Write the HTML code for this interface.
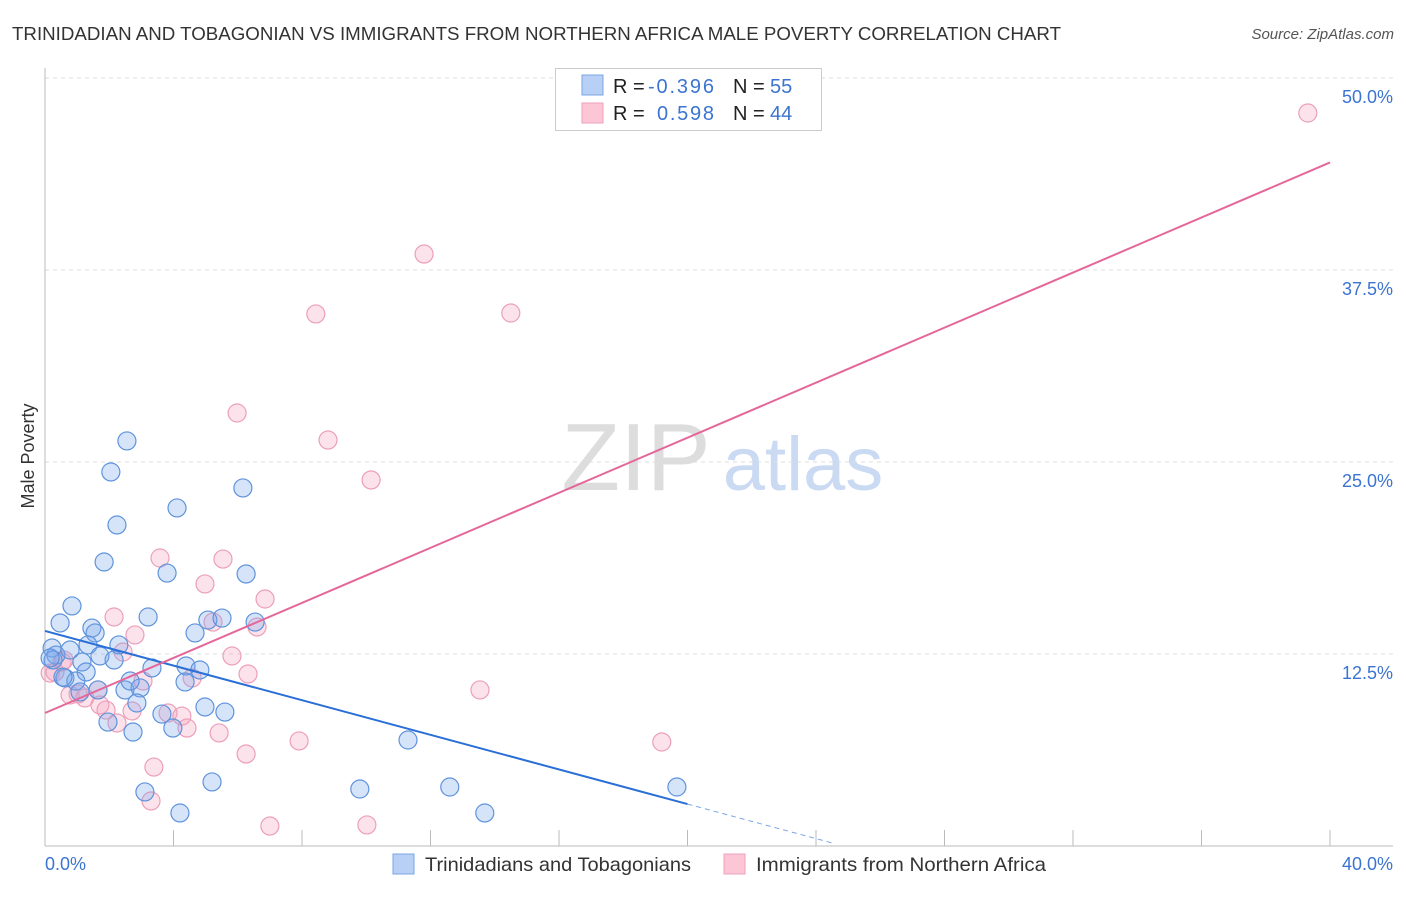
<!DOCTYPE html>
<html><head><meta charset="utf-8">
<style>
body{margin:0;background:#fff;font-family:"Liberation Sans",sans-serif;}
svg text{font-family:"Liberation Sans",sans-serif;}
</style></head>
<body>
<svg id="chart" width="1406" height="892" viewBox="0 0 1406 892">
<text x="12" y="40" font-size="18.5" fill="#333" textLength="1049" lengthAdjust="spacingAndGlyphs">TRINIDADIAN AND TOBAGONIAN VS IMMIGRANTS FROM NORTHERN AFRICA MALE POVERTY CORRELATION CHART</text>
<text x="1394" y="39" font-size="15" fill="#555" font-style="italic" text-anchor="end">Source: ZipAtlas.com</text>
<g>
<text x="636" y="490" font-size="96" fill="#ddd" font-family="Liberation Serif, serif" text-anchor="middle">ZIP</text>
<text x="803" y="490" font-size="76" fill="#c9daf2" text-anchor="middle">atlas</text>
</g>
<g id="grid"></g>
<g id="axes"></g>
<g id="marks"></g>
<g>
<rect x="555.5" y="68.5" width="266" height="62" fill="#fff" stroke="#ccc"/>
<rect x="582" y="75" width="21" height="20" fill="#b8d0f5" stroke="#7aa6e4"/>
<rect x="582" y="103" width="21" height="20" fill="#fcc6d6" stroke="#eea0b9"/>
<text x="613" y="93" font-size="20" fill="#222">R = <tspan x="648" fill="#3b74d1" textLength="66">-0.396</tspan><tspan x="733">N = </tspan><tspan x="770" fill="#3b74d1">55</tspan></text>
<text x="613" y="120" font-size="20" fill="#222">R = <tspan x="657" fill="#3b74d1" textLength="57">0.598</tspan><tspan x="733">N = </tspan><tspan x="770" fill="#3b74d1">44</tspan></text>
</g>
<g>
<rect x="393" y="854" width="21" height="20" fill="#b8d0f5" stroke="#7aa6e4"/>
<text x="425" y="871" font-size="19.5" fill="#333" textLength="266" lengthAdjust="spacingAndGlyphs">Trinidadians and Tobagonians</text>
<rect x="724" y="854" width="21" height="20" fill="#fcc6d6" stroke="#eea0b9"/>
<text x="756" y="871" font-size="19.5" fill="#333" textLength="290" lengthAdjust="spacingAndGlyphs">Immigrants from Northern Africa</text>
</g>
<text x="34" y="456" font-size="18" fill="#333" transform="rotate(-90 34 456)" text-anchor="middle">Male Poverty</text>
</svg>
<script>
const yTicks=[12.5,25,37.5,50];
const yTickLabels=["12.5%","25.0%","37.5%","50.0%"];
const xTicks=[0,4,8,12,16,20,24,28,32,36,40];
const blueX=[0.22,0.34,0.25,0.47,0.84,1.84,2.05,2.24,2.55,3.80,4.11,6.16,6.26,1.46,1.56,1.34,0.78,1.15,1.71,2.15,2.30,1.28,0.62,0.96,1.09,1.65,2.49,2.96,2.65,3.33,3.21,4.67,5.07,5.51,4.39,4.82,4.36,6.54,1.96,2.74,2.86,3.64,3.98,4.98,5.60,3.11,4.20,5.20,9.80,11.30,12.60,13.69,19.67,0.56,0.16];
const blueY=[12.89,12.43,12.11,14.52,15.63,18.49,24.35,20.90,26.37,17.77,22.01,23.31,17.71,14.19,13.87,13.09,12.76,11.98,12.37,12.11,13.09,11.33,10.94,10.74,10.03,10.16,10.16,10.29,10.74,11.59,14.91,13.87,14.71,14.84,11.72,11.46,10.68,14.58,8.07,7.42,9.31,8.59,7.68,9.05,8.72,3.52,2.15,4.17,3.71,6.90,3.84,2.15,3.84,11.00,12.24];
const pinkX=[39.31,11.80,8.43,14.50,5.98,8.81,10.15,3.58,5.54,4.98,6.85,2.15,5.23,6.60,2.80,5.82,2.43,0.53,0.31,0.16,0.59,6.32,4.58,3.05,1.65,0.78,1.24,1.71,1.90,2.71,3.83,4.26,4.42,5.42,2.24,13.54,7.91,19.20,3.39,6.26,3.30,7.00,10.02,1.03];
const pinkY=[47.72,38.54,34.64,34.70,28.19,26.43,23.83,18.75,18.68,17.06,16.08,14.91,14.58,14.26,13.74,12.37,12.63,11.98,11.33,11.26,12.11,11.20,10.94,10.74,10.16,9.83,9.64,9.18,8.85,8.79,8.66,8.46,7.68,7.36,8.01,10.16,6.84,6.77,5.14,5.99,2.93,1.30,1.37,9.90];
const blueTrend=[[0,14.0],[20,2.73]];
const blueTrendExt=[[20,2.73],[24.5,0.2]];
const pinkTrend=[[0,8.66],[40,44.5]];

const NS="http://www.w3.org/2000/svg";
const sx=v=>45+v*32.125;
const sy=v=>846-v*15.36;
function mk(tag,attrs,parent){const e=document.createElementNS(NS,tag);for(const k in attrs)e.setAttribute(k,attrs[k]);parent.appendChild(e);return e;}
const grid=document.getElementById('grid'),axes=document.getElementById('axes'),marks=document.getElementById('marks');
yTicks.forEach((t,i)=>{
  const l=mk('line',{x1:45,x2:1393,y1:sy(t),y2:sy(t),stroke:'#ddd','stroke-dasharray':'4,4'},grid);
  
  
  const tx=mk('text',{x:1393,y:sy(t)+25,'font-size':18,fill:'#3b74d1','text-anchor':'end'},axes);
  tx.textContent=yTickLabels[i];
  
  
});
const la=mk('line',{x1:45,x2:45,y1:68,y2:846,stroke:'#bbb'},axes);


const xa=mk('line',{x1:45,x2:1393,y1:846,y2:846,stroke:'#bbb'},axes);


xTicks.forEach(t=>{
  const tk=mk('line',{x1:sx(t),x2:sx(t),y1:830,y2:846,stroke:'#bbb'},axes);
  
  
});
const x0=mk('text',{x:45,y:870,'font-size':18,fill:'#3b74d1'},axes);x0.textContent='0.0%';


const x1=mk('text',{x:1393,y:870,'font-size':18,fill:'#3b74d1','text-anchor':'end'},axes);x1.textContent='40.0%';


pinkX.forEach((v,i)=>{
  const c=mk('circle',{cx:sx(v),cy:sy(pinkY[i]),r:9,fill:'rgba(246,160,190,0.3)',stroke:'#ec9fb9','stroke-width':1.2},marks);
  
  
});
blueX.forEach((v,i)=>{
  const c=mk('circle',{cx:sx(v),cy:sy(blueY[i]),r:9,fill:'rgba(120,165,235,0.3)',stroke:'#5f93dc','stroke-width':1.2},marks);
  
  
});
const bl=mk('line',{x1:sx(blueTrend[0][0]),y1:sy(blueTrend[0][1]),x2:sx(blueTrend[1][0]),y2:sy(blueTrend[1][1]),stroke:'#2a6fd6','stroke-width':2},marks);


const bd=mk('line',{x1:sx(blueTrendExt[0][0]),y1:sy(blueTrendExt[0][1]),x2:sx(blueTrendExt[1][0]),y2:sy(blueTrendExt[1][1]),stroke:'#7aa6e4','stroke-width':1,'stroke-dasharray':'5,4'},marks);


const pl=mk('line',{x1:sx(pinkTrend[0][0]),y1:sy(pinkTrend[0][1]),x2:sx(pinkTrend[1][0]),y2:sy(pinkTrend[1][1]),stroke:'#e5679a','stroke-width':2},marks);


</script>
</body></html>
